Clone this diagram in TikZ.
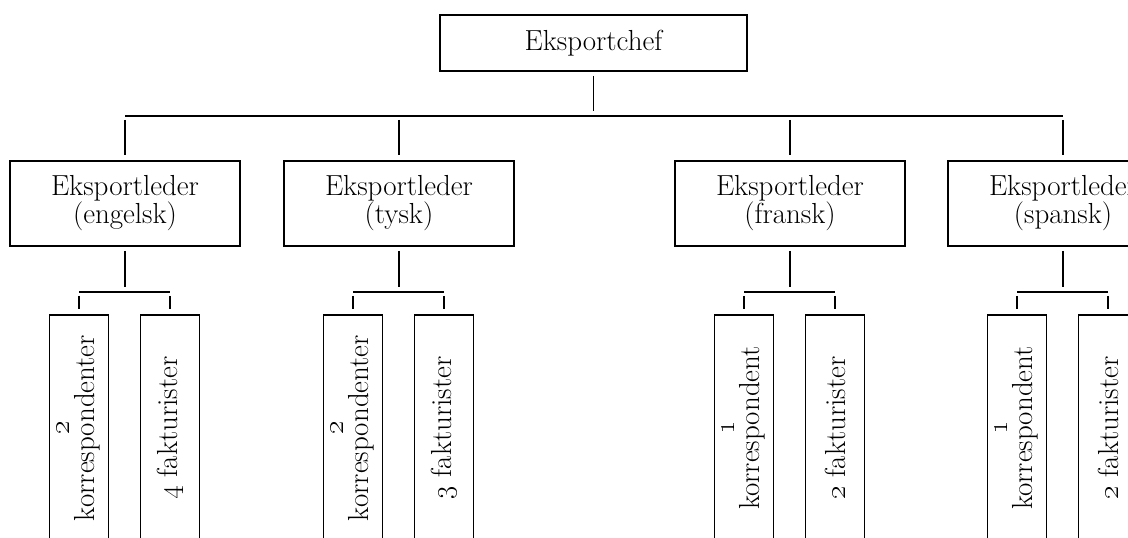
\RequirePackage{fix-cm}
\documentclass[tikz,border=0pt]{standalone}
\usetikzlibrary{positioning,calc}
\tikzset{
    on grid,
    auto,
    head/.style = {
        draw,
        shape=rectangle,
        minimum height=56pt,
        minimum width=307pt,
        line width=1.7pt,
        font=\fontsize{29}{28}\selectfont
    },
    block/.style = {
        draw,
        shape=rectangle,
        minimum height=85pt,
        minimum width=230pt,
        align=center,
        line width=1.7pt,
        font=\fontsize{29}{28}\selectfont
    },
    staff/.style = {
        draw,
        shape=rectangle,
        rotate=90,
        minimum height=59pt,
        minimum width=226pt,
        inner sep=2pt,
        align=center,
        line width=1.7pt,
        font=\fontsize{29}{25}\selectfont
    },
    link/.style = {
        draw,
        line width=1.7pt,
        shorten <=4pt,
        shorten >=5pt
    },
    rail/.style = {
        draw,
        line width=1.7pt
    },
}

\begin{document}
\begin{tikzpicture}
        \useasboundingbox (0,0) rectangle (1128pt,-538pt);

        \node[head] (chef) at (593.5pt,-43pt) {Eksportchef};
        \node[block, below left=160.5pt and 468.5pt of chef] (eng) {Eksportleder\\(engelsk)};
        \node[block, right=274pt of eng] (tys) {Eksportleder\\(tysk)};
        \node[block, right=391pt of tys] (fra) {Eksportleder\\(fransk)};
        \node[block, right=273pt of fra] (spa) {Eksportleder\\(spansk)};

        \node[staff, below left=224.5pt and 46pt of eng] (engk) {\oldstylenums{2}\\korrespondenter};
        \node[staff, below right=224.5pt and 45pt of eng] (engf) {\oldstylenums{4} fakturister};
        \node[staff, below left=224.5pt and 46pt of tys] (tysk) {\oldstylenums{2}\\korrespondenter};
        \node[staff, below right=224.5pt and 45pt of tys] (tysf) {\oldstylenums{3} fakturister};
        \node[staff, below left=224.5pt and 46pt of fra] (frak) {\oldstylenums{1}\\korrespondent};
        \node[staff, below right=224.5pt and 45pt of fra] (fraf) {\oldstylenums{2} fakturister};
        \node[staff, below left=224.5pt and 46pt of spa] (spak) {\oldstylenums{1}\\korrespondent};
        \node[staff, below right=224.5pt and 45pt of spa] (spaf) {\oldstylenums{2} fakturister};

        \coordinate (chefbar) at ($(chef.south)+(0,-44pt)$);
        \coordinate (engbar) at ($(eng.south)+(0,-45pt)$);
        \coordinate (tysbar) at ($(tys.south)+(0,-45pt)$);
        \coordinate (frabar) at ($(fra.south)+(0,-45pt)$);
        \coordinate (spabar) at ($(spa.south)+(0,-45pt)$);

        \path[link] (chef.south) -- (chefbar);
        \path[rail] (eng |- chefbar) -- (spa |- chefbar);
        \path[link] (eng |- chefbar) -- (eng.north);
        \path[link] (tys |- chefbar) -- (tys.north);
        \path[link] (fra |- chefbar) -- (fra.north);
        \path[link] (spa |- chefbar) -- (spa.north);

        \path[link] (eng.south) -- (engbar);
        \path[rail] (engk |- engbar) -- (engf |- engbar);
        \path[link] (engk |- engbar) -- (engk.east);
        \path[link] (engf |- engbar) -- (engf.east);

        \path[link] (tys.south) -- (tysbar);
        \path[rail] (tysk |- tysbar) -- (tysf |- tysbar);
        \path[link] (tysk |- tysbar) -- (tysk.east);
        \path[link] (tysf |- tysbar) -- (tysf.east);

        \path[link] (fra.south) -- (frabar);
        \path[rail] (frak |- frabar) -- (fraf |- frabar);
        \path[link] (frak |- frabar) -- (frak.east);
        \path[link] (fraf |- frabar) -- (fraf.east);

        \path[link] (spa.south) -- (spabar);
        \path[rail] (spak |- spabar) -- (spaf |- spabar);
        \path[link] (spak |- spabar) -- (spak.east);
        \path[link] (spaf |- spabar) -- (spaf.east);
    \end{tikzpicture}
\end{document}
